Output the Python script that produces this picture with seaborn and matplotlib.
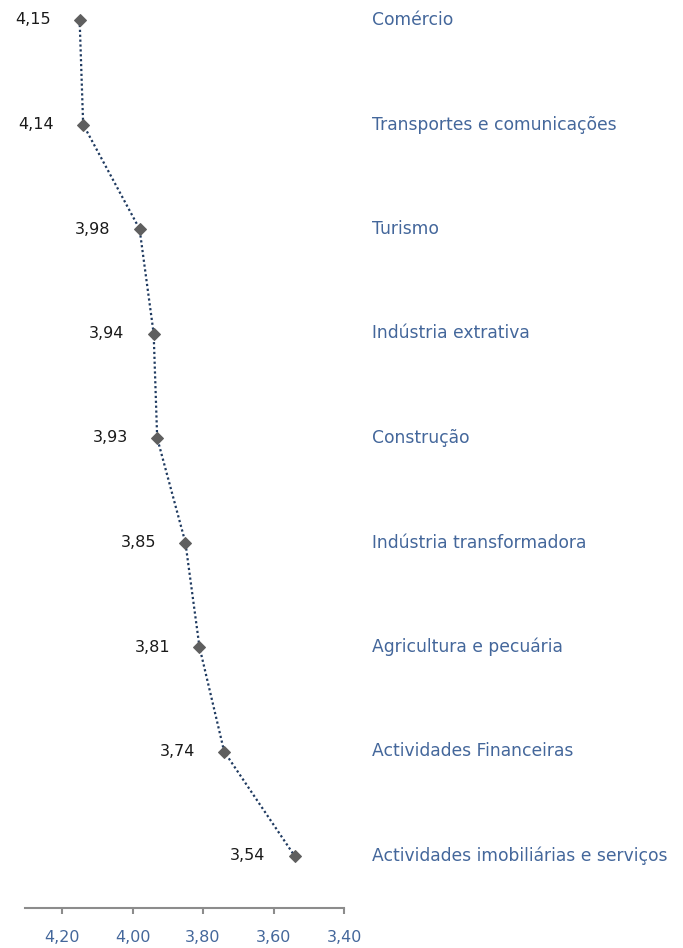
import matplotlib
matplotlib.use("Agg")
import matplotlib.pyplot as plt
import matplotlib.transforms as mtransforms
import pandas as pd
import seaborn as sns

sectors = [
    "Comércio",
    "Transportes e comunicações",
    "Turismo",
    "Indústria extrativa",
    "Construção",
    "Indústria transformadora",
    "Agricultura e pecuária",
    "Actividades Financeiras",
    "Actividades imobiliárias e serviços",
]
scores = [4.15, 4.14, 3.98, 3.94, 3.93, 3.85, 3.81, 3.74, 3.54]
x_ticks = [4.20, 4.00, 3.80, 3.60, 3.40]

df = pd.DataFrame({"sector": sectors, "score": scores, "pos": range(len(sectors))})

sns.set_theme(style="white")
plt.rcParams["font.family"] = ["DejaVu Sans"]

W, H = 683, 948
fig = plt.figure(figsize=(W / 100, H / 100), dpi=100)
ax = fig.add_axes([25 / W, 1 - 908 / H, (344 - 25) / W, 908 / H])

sns.lineplot(data=df, x="score", y="pos", sort=False, ax=ax,
             color="#1f3a60", linestyle=(0, (1, 1.2)), linewidth=1.6,
             marker="D", markersize=6.5, markerfacecolor="#5f5f5f",
             markeredgecolor="#5f5f5f")

ax.set_xlim(4.305, 3.40)
ax.set_ylim((908 - 20) / 104.5, -20 / 104.5)

blue = "#44679b"
for _, row in df.iterrows():
    ax.annotate(f"{row.score:.2f}".replace(".", ","), (row.score, row.pos),
                xytext=(-21, 0), textcoords="offset points",
                ha="right", va="center", fontsize=11.5, color="#1a1a1a")

trans = mtransforms.blended_transform_factory(fig.transFigure, ax.transData)
for _, row in df.iterrows():
    ax.text(372 / W, row.pos, row.sector, transform=trans, ha="left",
            va="center", fontsize=12.3, color=blue, clip_on=False)

ax.set_xticks(x_ticks)
ax.set_xticklabels([f"{t:.2f}".replace(".", ",") for t in x_ticks],
                   color=blue, fontsize=11.5)
ax.set_yticks([])
ax.set_xlabel("")
ax.set_ylabel("")
for side in ["top", "right", "left"]:
    ax.spines[side].set_visible(False)
ax.spines["bottom"].set_color("#8c8c8c")
ax.spines["bottom"].set_linewidth(1.5)
ax.tick_params(axis="x", bottom=True, direction="out", length=4, width=1.5,
               color="#8c8c8c", pad=12)

fig.savefig("out.png", dpi=100, facecolor="white")
